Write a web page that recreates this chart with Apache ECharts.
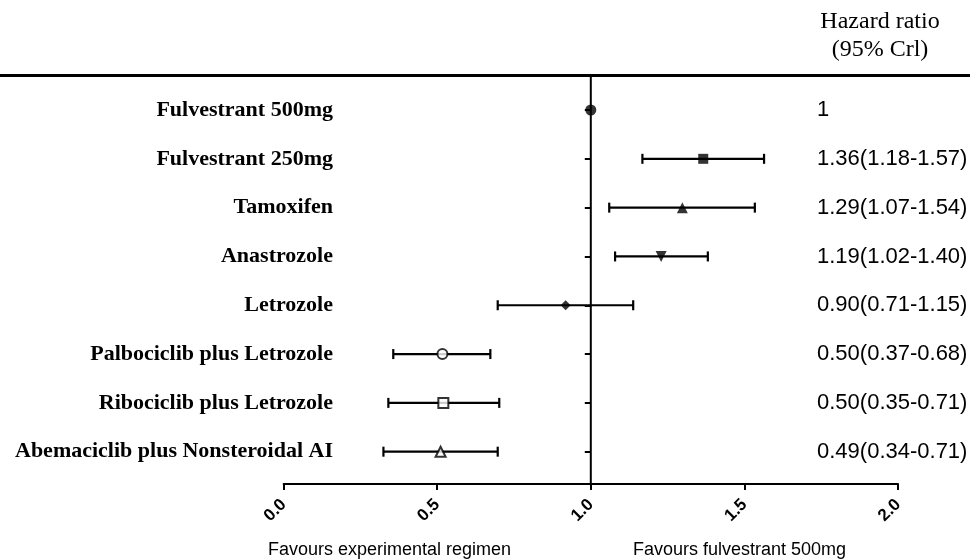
<!DOCTYPE html>
<html>
<head>
<meta charset="utf-8">
<script src="https://cdn.jsdelivr.net/npm/echarts@6/dist/echarts.min.js"></script>
<style>
  html, body { margin: 0; padding: 0; background: #fff; }
  #chart { width: 970px; height: 560px; }
</style>
</head>
<body>
<div id="chart"></div>
<script>
// ---- Data ----
const categories = [
  'Fulvestrant 500mg',
  'Fulvestrant 250mg',
  'Tamoxifen',
  'Anastrozole',
  'Letrozole',
  'Palbociclib plus Letrozole',
  'Ribociclib plus Letrozole',
  'Abemaciclib plus Nonsteroidal AI'
];
const hazardRatio = [1.0, 1.366, 1.298, 1.229, 0.918, 0.517, 0.520, 0.511];
const lowerCrI    = [1.0, 1.168, 1.060, 1.079, 0.697, 0.357, 0.341, 0.325];
const upperCrI    = [1.0, 1.564, 1.534, 1.381, 1.138, 0.673, 0.702, 0.697];
const hrLabels = [
  '1',
  '1.36(1.18-1.57)',
  '1.29(1.07-1.54)',
  '1.19(1.02-1.40)',
  '0.90(0.71-1.15)',
  '0.50(0.37-0.68)',
  '0.50(0.35-0.71)',
  '0.49(0.34-0.71)'
];
const xMin = 0, xMax = 2, xInterval = 0.5;
const referenceValue = 1;
const headerText = 'Hazard ratio\n(95% Crl)';
const leftNote = 'Favours experimental regimen';
const rightNote = 'Favours fulvestrant 500mg';

// ---- Styles (markers per row) ----
const markerStyles = [
  { symbol: 'circle',   size: 11, rotate: 0,   filled: true },
  { symbol: 'rect',     size: 10, rotate: 0,   filled: true },
  { symbol: 'triangle', size: 11, rotate: 0,   filled: true },
  { symbol: 'triangle', size: 11, rotate: 180, filled: true },
  { symbol: 'diamond',  size: 10, rotate: 0,   filled: true },
  { symbol: 'circle',   size: 10, rotate: 0,   filled: false },
  { symbol: 'rect',     size: 10, rotate: 0,   filled: false },
  { symbol: 'triangle', size: 10, rotate: 0,   filled: false }
];

// ---- Layout ----
const W = 970, H = 560;
const gridLeft = 283.6, gridRight = 72;
const plotTop = 75, axisY = 484;
const rowTop = 85.6, rowHeight = 390.5;
const labelRight = 333, hrLabelLeft = 817;
const gridWidth = W - gridLeft - gridRight;
const refPix = gridLeft + (referenceValue - xMin) / (xMax - xMin) * gridWidth;

const chart = echarts.init(document.getElementById('chart'), null, { renderer: 'canvas' });

const ciData = categories.map((c, i) => [i, lowerCrI[i], upperCrI[i]]);
const pointData = hazardRatio.map((v, i) => {
  const m = markerStyles[i];
  return {
    value: [v, i],
    symbol: m.symbol,
    symbolSize: m.size,
    symbolRotate: m.rotate,
    itemStyle: m.filled
      ? { color: '#000', borderWidth: 0 }
      : { color: '#fff', borderColor: '#000', borderWidth: 2 }
  };
});

const hiddenAxis = {
  axisLine: { show: false, onZero: false }, axisTick: { show: false },
  axisLabel: { show: false }, splitLine: { show: false }
};

const option = {
  backgroundColor: '#fff',
  animation: false,
  grid: [
    { left: 0, right: 0, top: plotTop, height: 10, containLabel: false, outerBoundsMode: 'none' },
    { left: gridLeft, right: gridRight, top: plotTop, bottom: H - axisY, containLabel: false, outerBoundsMode: 'none' },
    { left: gridLeft, right: gridRight, top: rowTop, height: rowHeight, containLabel: false, outerBoundsMode: 'none' }
  ],
  xAxis: [
    { gridIndex: 0, type: 'value', position: 'top', min: 0, max: 1,
      axisLine: { show: true, onZero: false, lineStyle: { color: '#000', width: 3 } },
      axisTick: { show: false }, axisLabel: { show: false }, splitLine: { show: false } },
    { gridIndex: 1, type: 'value', position: 'bottom', min: xMin, max: xMax, interval: xInterval,
      axisLine: { show: true, onZero: false, lineStyle: { color: '#000', width: 2 } },
      axisTick: { show: true, length: 6, lineStyle: { color: '#000', width: 2 } },
      axisLabel: { show: true, rotate: 45, margin: 18, color: '#000', fontSize: 17,
        fontWeight: 'bold', fontFamily: '"Liberation Sans", Arial, sans-serif',
        formatter: v => v.toFixed(1) },
      splitLine: { show: false } },
    Object.assign({ gridIndex: 2, type: 'value', min: xMin, max: xMax }, hiddenAxis)
  ],
  yAxis: [
    Object.assign({ gridIndex: 0, type: 'value' }, hiddenAxis),
    Object.assign({ gridIndex: 1, type: 'value', min: 0, max: 1 }, hiddenAxis),
    { gridIndex: 2, type: 'category', data: categories, inverse: true, position: 'left',
      offset: -(labelRight - gridLeft),
      axisLine: { show: false, onZero: false }, axisTick: { show: false }, splitLine: { show: false },
      axisLabel: { show: true, margin: 0, color: '#000', fontSize: 22, fontWeight: 'bold',
        fontFamily: '"Liberation Serif", "Times New Roman", serif' } },
    { gridIndex: 2, type: 'category', data: categories, inverse: true, position: 'left',
      offset: -(refPix - gridLeft),
      axisLine: { show: false, onZero: false },
      axisTick: { show: true, length: 6, alignWithLabel: true, lineStyle: { color: '#000', width: 2 } },
      axisLabel: { show: false }, splitLine: { show: false } },
    { gridIndex: 2, type: 'category', data: categories, inverse: true, position: 'right',
      offset: hrLabelLeft - (gridLeft + gridWidth),
      axisLine: { show: false, onZero: false }, axisTick: { show: false }, splitLine: { show: false },
      axisLabel: { show: true, margin: 0, align: 'left', color: '#000', fontSize: 22,
        fontFamily: '"Liberation Sans", Arial, sans-serif',
        formatter: (v, i) => hrLabels[i] } }
  ],
  series: [
    { type: 'line', xAxisIndex: 1, yAxisIndex: 1, symbol: 'none', silent: true, z: 1,
      lineStyle: { color: '#000', width: 2 },
      data: [[referenceValue, 0], [referenceValue, 1]] },
    { type: 'custom', xAxisIndex: 2, yAxisIndex: 2, z: 3,
      encode: { x: [1, 2], y: 0 },
      data: ciData,
      renderItem: function (params, api) {
        const row = api.value(0), lo = api.value(1), hi = api.value(2);
        if (lo === hi) return null;
        const p1 = api.coord([lo, row]);
        const p2 = api.coord([hi, row]);
        const cap = 5;
        const st = { stroke: '#000', lineWidth: 2.2 };
        return {
          type: 'group',
          children: [
            { type: 'line', shape: { x1: p1[0], y1: p1[1], x2: p2[0], y2: p2[1] }, style: st },
            { type: 'line', shape: { x1: p1[0], y1: p1[1] - cap, x2: p1[0], y2: p1[1] + cap }, style: st },
            { type: 'line', shape: { x1: p2[0], y1: p2[1] - cap, x2: p2[0], y2: p2[1] + cap }, style: st }
          ]
        };
      } },
    { type: 'scatter', xAxisIndex: 2, yAxisIndex: 2, z: 5, data: pointData }
  ],
  graphic: [
    { type: 'text', x: 880, y: 8, style: { text: headerText, align: 'center', verticalAlign: 'top',
      font: '24px "Liberation Serif", "Times New Roman", serif', lineHeight: 28, fill: '#000' } },
    { type: 'text', x: 268, y: 541, style: { text: leftNote, verticalAlign: 'top',
      font: '18px "Liberation Sans", Arial, sans-serif', fill: '#000' } },
    { type: 'text', x: 633, y: 541, style: { text: rightNote, verticalAlign: 'top',
      font: '18px "Liberation Sans", Arial, sans-serif', fill: '#000' } }
  ]
};

chart.setOption(option);
</script>
</body>
</html>
